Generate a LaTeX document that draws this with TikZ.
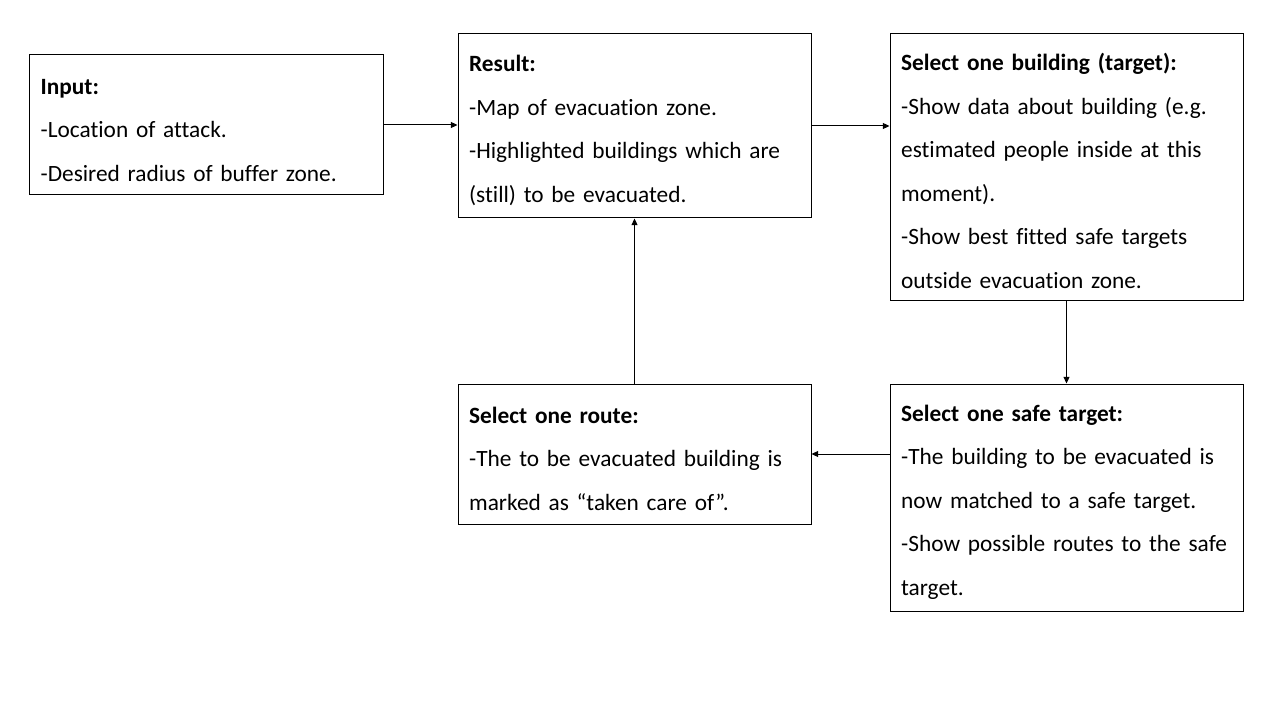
\documentclass[tikz,border=0pt]{standalone}
\usepackage{fontspec}
\setmainfont{Carlito}[Ligatures={NoCommon}]
\usetikzlibrary{arrows.meta}

\begin{document}
\begin{tikzpicture}[x=0.75pt,y=-0.75pt,
      stepbox/.style ={rectangle, draw, line width=0.75pt, inner xsep=8.25pt, inner ysep=0pt,
         align=left, text width=248pt, minimum width=264.75pt, minimum height=#1,
         font=\fontsize{17.5}{32.6}\selectfont,
         execute at begin node={\rule{0pt}{19pt}}},
      link/.style ={line width=0.75pt, -{Triangle[length=5pt, width=4.5pt]}}]
   \useasboundingbox (0,0) rectangle (1280,720);

   \node[stepbox=105pt, minimum width=265.5pt] (input) at (206,125)
      {\textbf{Input:}\\-Location of attack.\\-Desired radius of buffer zone.};
   \node[stepbox=138pt] (result) at (634.5,126)
      {\textbf{Result:}\\-Map of evacuation zone.\\-Highlighted buildings which are\\(still) to be evacuated.};
   \node[stepbox=199.5pt] (building) at (1066.5,167)
      {\textbf{Select one building (target):}\\-Show data about building (e.g.\\estimated people inside at this\\moment).\\-Show best fitted safe targets\\outside evacuation zone.};
   \node[stepbox=170.25pt] (safe) at (1066.5,497.5)
      {\textbf{Select one safe target:}\\-The building to be evacuated is\\now matched to a safe target.\\-Show possible routes to the safe\\target.};
   \node[stepbox=105pt] (route) at (634.5,454)
      {\textbf{Select one route:}\\-The to be evacuated building is\\marked as “taken care of”.};

   \draw[link] (input.east) to (input.east -| result.west);
   \draw[link] (result.east) to (result.east -| building.west);
   \draw[link] (building.south) to (safe.north);
   \draw[link] (route.east -| safe.west) to (route.east);
   \draw[link] (route.north) to (result.south);
 \end{tikzpicture}
\end{document}
